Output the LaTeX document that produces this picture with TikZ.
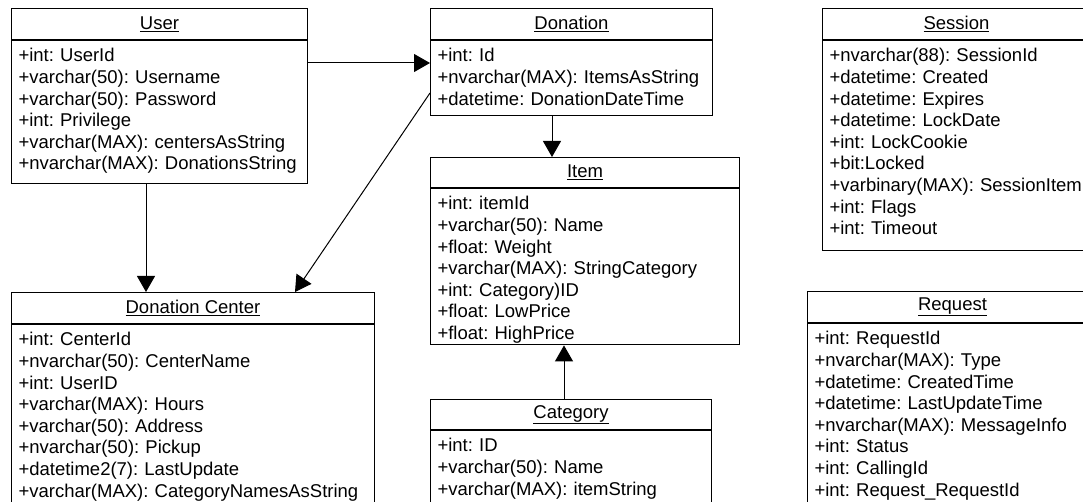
\documentclass[tikz,border=0pt]{standalone}
\usepackage{fontspec}
\setmainfont{Liberation Sans}
\usetikzlibrary{arrows.meta, positioning, calc}
\frenchspacing

\begin{document}
\begin{tikzpicture}[x=1pt, y=-1pt,
  classhead/.style={draw, line width=1pt, minimum height=31pt, inner sep=0pt, anchor=north west, font=\fontsize{18.5}{21.6}\selectfont},
  classbody/.style={draw, line width=1pt, inner xsep=7pt, inner ysep=8pt, align=left, font=\fontsize{18.5}{21.6}\selectfont},
  arr/.style={-{Triangle[length=16pt,width=18pt]}, line width=1pt}]
\useasboundingbox (0,0) rectangle (1083,502);
\clip (0,0) rectangle (1083,502);

% classes
\node[classhead, minimum width=296pt] (userhead) at (11,8) {\underline{User}};
\node[classbody, text width=282pt, text depth=114pt, below=0pt of userhead] (userbody)
  {+int: UserId\\+varchar(50): Username\\+varchar(50): Password\\+int: Privilege\\+varchar(MAX): centersAsString\\+nvarchar(MAX): DonationsString};

\node[classhead, minimum width=282pt] (donationhead) at (430,8) {\underline{Donation}};
\node[classbody, text width=268pt, text depth=46pt, below=0pt of donationhead] (donationbody)
  {+int: Id\\+nvarchar(MAX): ItemsAsString\\+datetime: DonationDateTime};

\node[classhead, minimum width=309pt, minimum height=30pt] (itemhead) at (430,157) {\underline{Item}};
\node[classbody, text width=295pt, text depth=127pt, below=0pt of itemhead] (itembody)
  {+int: itemId\\+varchar(50): Name\\+float: Weight\\+varchar(MAX): StringCategory\\+int: Category)ID\\+float: LowPrice\\+float: HighPrice};

\node[classhead, minimum width=281pt, minimum height=30pt] (categoryhead) at (430,399) {\underline{Category}};
\node[classbody, text width=267pt, text depth=62pt, below=0pt of categoryhead] (categorybody)
  {+int: ID\\+varchar(50): Name\\+varchar(MAX): itemString};

\node[classhead, minimum width=363pt] (centerhead) at (11,292) {\underline{Donation Center}};
\node[classbody, text width=349pt, text depth=168pt, below=0pt of centerhead] (centerbody)
  {+int: CenterId\\+nvarchar(50): CenterName\\+int: UserID\\+varchar(MAX): Hours\\+varchar(50): Address\\+nvarchar(50): Pickup\\+datetime2(7): LastUpdate\\+varchar(MAX): CategoryNamesAsString};

\node[classhead, minimum width=268pt] (sessionhead) at (822,8) {\underline{Session}};
\node[classbody, text width=254pt, text depth=181pt, below=0pt of sessionhead] (sessionbody)
  {+nvarchar(88): SessionId\\+datetime: Created\\+datetime: Expires\\+datetime: LockDate\\+int: LockCookie\\+bit:Locked\\+varbinary(MAX): SessionItem\\+int: Flags\\+int: Timeout};

\node[classhead, minimum width=290pt] (requesthead) at (807,291) {\underline{Request}};
\node[classbody, text width=276pt, text depth=168pt, below=0pt of requesthead] (requestbody)
  {+int: RequestId\\+nvarchar(MAX): Type\\+datetime: CreatedTime\\+datetime: LastUpdateTime\\+nvarchar(MAX): MessageInfo\\+int: Status\\+int: CallingId\\+int: Request\_RequestId};

% associations
\draw[arr] ($(userbody.north east)+(0,23)$) -- ($(donationbody.north west)+(0,23)$);
\draw[arr] ($(userbody.south west)+(135,0)$) -- ($(centerhead.north west)+(135,0)$);
\draw[arr] ($(donationbody.north west)+(0,53)$) -- ($(centerhead.north west)+(284,0)$);
\draw[arr] ($(donationbody.south west)+(122,0)$) -- ($(itemhead.north west)+(122,0)$);
\draw[arr] ($(categoryhead.north west)+(134,0)$) -- ($(itembody.south west)+(134,0)$);
\end{tikzpicture}
\end{document}
